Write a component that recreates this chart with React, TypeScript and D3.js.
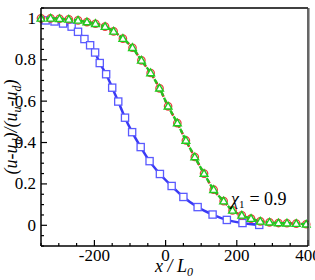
import React, { useRef, useEffect } from 'react';
import * as d3 from 'd3';

// blue squares curve
const blueX = [-337, -312, -288, -264, -246, -228, -212, -198, -185, -167, -150, -133, -114, -94, -70, -45, -16, 17, 50, 90, 132, 172, 216, 263];
const blueY = [0.99, 0.985, 0.975, 0.96, 0.935, 0.9, 0.87, 0.835, 0.784, 0.73, 0.665, 0.598, 0.52, 0.45, 0.378, 0.31, 0.248, 0.19, 0.137, 0.088, 0.052, 0.026, 0.011, 0.002];

// green triangles / red circles curve
const greenX = [-350, -323, -298, -272, -246, -221, -197, -170, -146, -120, -93, -68, -42, -17, 7, 33, 57, 82, 108, 135, 163, 188, 214, 240, 266, 292, 317, 341, 367, 395];
const greenY = [1.0, 1.0, 0.998, 0.995, 0.99, 0.982, 0.974, 0.96, 0.937, 0.902, 0.858, 0.797, 0.736, 0.662, 0.575, 0.494, 0.41, 0.33, 0.25, 0.172, 0.117, 0.072, 0.048, 0.032, 0.019, 0.0145, 0.011, 0.01, 0.008, 0.005];

const xTicks = [-200, 0, 200, 400];
const yTicks = [0, 0.2, 0.4, 0.6, 0.8, 1];

const App = () => {
  const ref = useRef<SVGSVGElement>(null);

  useEffect(() => {
    const width = 315;
    const height = 280;
    const margin = { top: 8, right: 7, bottom: 34, left: 41 };
    const font = '"Times New Roman", "Liberation Serif", Times, serif';

    const svg = d3.select(ref.current);
    svg.selectAll('*').remove();

    const x = d3.scaleLinear().domain([-350, 400]).range([margin.left, width - margin.right]);
    const y = d3.scaleLinear().domain([-0.1, 1.05]).range([height - margin.bottom, margin.top]);

    const x0 = margin.left, x1 = width - margin.right;
    const y0 = height - margin.bottom, y1 = margin.top;

    // ticks, inward
    const g = svg.append('g');
    d3.range(-350, 401, 50).forEach(v => {
      const major = xTicks.includes(v);
      g.append('line').attr('x1', x(v)).attr('x2', x(v)).attr('y1', y0).attr('y2', y0 - (major ? 6 : 3))
        .attr('stroke', '#000').attr('stroke-width', 1.2);
    });
    d3.range(-0.1, 1.051, 0.05).forEach(v => {
      const major = yTicks.some(t => Math.abs(t - v) < 1e-6);
      g.append('line').attr('y1', y(v)).attr('y2', y(v)).attr('x1', x0).attr('x2', x0 + (major ? 6 : 3))
        .attr('stroke', '#000').attr('stroke-width', 1.2);
    });

    // tick labels
    xTicks.forEach(v => {
      svg.append('text').attr('x', x(v)).attr('y', y0 + 15).attr('text-anchor', 'middle')
        .style('font-family', font).style('font-size', '17px').text(v);
    });
    yTicks.forEach(v => {
      svg.append('text').attr('x', x0 - 5).attr('y', y(v) + 5.5).attr('text-anchor', 'end')
        .style('font-family', font).style('font-size', '17px').text(v);
    });

    const line = d3.line<[number, number]>().x(d => x(d[0])).y(d => y(d[1])).curve(d3.curveMonotoneX);
    const blue: [number, number][] = blueX.map((v, i) => [v, blueY[i]]);
    const green: [number, number][] = greenX.map((v, i) => [v, greenY[i]]);

    // blue line + squares
    svg.append('path').attr('d', line(blue)).attr('fill', 'none').attr('stroke', '#3a3af5').attr('stroke-width', 2.5);
    svg.selectAll('rect.sq').data(blue).join('rect').attr('class', 'sq')
      .attr('x', d => x(d[0]) - 3.6).attr('y', d => y(d[1]) - 3.6).attr('width', 7.2).attr('height', 7.2)
      .attr('fill', '#fff').attr('stroke', '#5a5aff').attr('stroke-width', 1.3);

    // red dashed line + circles
    svg.append('path').attr('d', line(green)).attr('fill', 'none').attr('stroke', '#e02828')
      .attr('stroke-width', 2.4).attr('stroke-dasharray', '4,3');
    svg.selectAll('circle.rc').data(green).join('circle').attr('class', 'rc')
      .attr('cx', d => x(d[0])).attr('cy', d => y(d[1])).attr('r', 3.7)
      .attr('fill', 'none').attr('stroke', '#e84040').attr('stroke-width', 1.3);

    // green dashed line + triangles
    svg.append('path').attr('d', line(green)).attr('fill', 'none').attr('stroke', '#22c522')
      .attr('stroke-width', 2.4).attr('stroke-dasharray', '5,2').attr('stroke-dashoffset', 2);
    const tri = d3.symbol().type(d3.symbolTriangle).size(26);
    svg.selectAll('path.tr').data(green).join('path').attr('class', 'tr')
      .attr('d', tri()).attr('transform', d => `translate(${x(d[0])},${y(d[1]) + 0.5})`)
      .attr('fill', '#fff').attr('stroke', '#1fcc1f').attr('stroke-width', 1.4);

    // frame
    svg.append('line').attr('x1', x0).attr('x2', x1).attr('y1', y1).attr('y2', y1).attr('stroke', '#000').attr('stroke-width', 1.5);
    svg.append('line').attr('x1', x1).attr('x2', x1).attr('y1', y1).attr('y2', y0).attr('stroke', '#333').attr('stroke-width', 1.5);
    svg.append('line').attr('x1', x1 + 1.5).attr('x2', x1 + 1.5).attr('y1', y1).attr('y2', y0).attr('stroke', '#aaa').attr('stroke-width', 1);
    svg.append('line').attr('x1', x0).attr('x2', x0).attr('y1', y1).attr('y2', y0).attr('stroke', '#000').attr('stroke-width', 1.5);
    svg.append('line').attr('x1', x0).attr('x2', x1).attr('y1', y0).attr('y2', y0).attr('stroke', '#000').attr('stroke-width', 1.5);

    // annotation
    const ann = svg.append('text').attr('x', 231).attr('y', 205).style('font-family', font).style('font-size', '18px');
    ann.append('tspan').style('font-style', 'italic').text('χ');
    ann.append('tspan').attr('dy', 3).style('font-size', '11px').text('1');
    ann.append('tspan').attr('dy', -3).attr('dx', 5).text('= 0.9');

    // x label
    const xl = svg.append('text').attr('x', 174).attr('y', 272).attr('text-anchor', 'middle')
      .style('font-family', font).style('font-size', '18px').style('font-style', 'italic');
    xl.append('tspan').text('x / L');
    xl.append('tspan').attr('dy', 4).style('font-size', '12px').text('0');

    // y label
    const yl = svg.append('text').attr('transform', 'translate(17,127) rotate(-90)').attr('text-anchor', 'middle')
      .style('font-family', font).style('font-size', '18px').style('font-style', 'italic');
    yl.append('tspan').text('(u-u');
    yl.append('tspan').attr('dy', 4).style('font-size', '12px').text('d');
    yl.append('tspan').attr('dy', -4).text(')/(u');
    yl.append('tspan').attr('dy', 4).style('font-size', '12px').text('u');
    yl.append('tspan').attr('dy', -4).text('-u');
    yl.append('tspan').attr('dy', 4).style('font-size', '12px').text('d');
    yl.append('tspan').attr('dy', -4).text(')');
  }, []);

  return <svg ref={ref} width={315} height={280} style={{ position: 'absolute', left: 0, top: 0 }}></svg>;
};

export default App;
